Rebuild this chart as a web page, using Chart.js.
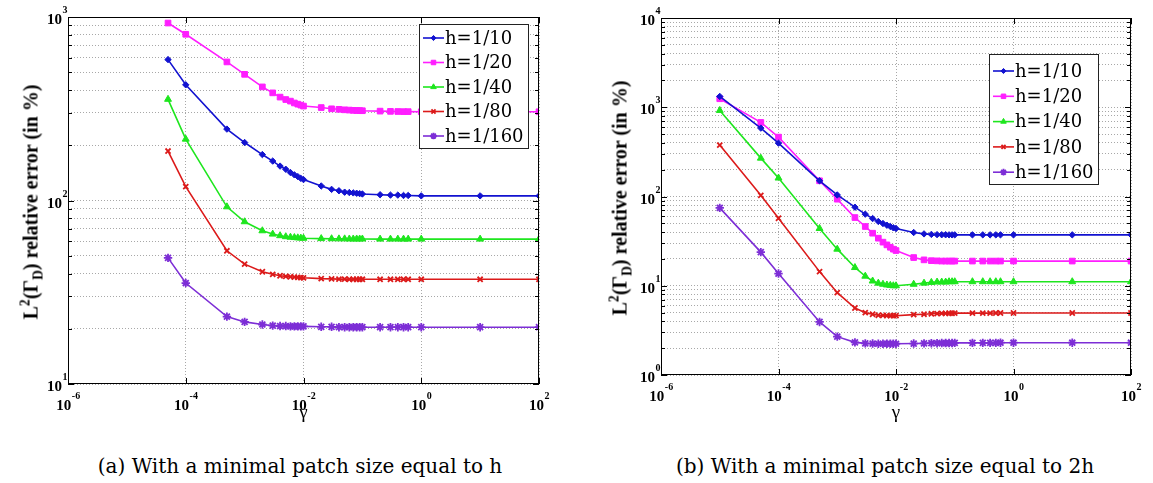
<!DOCTYPE html>
<html>
<head>
<meta charset="utf-8">
<script src="https://cdn.jsdelivr.net/npm/chart.js@4.4.0/dist/chart.umd.min.js"></script>
<style>
  body { margin:0; background:#fff; width:1153px; height:483px; overflow:hidden; position:relative; }
  .panel { position:absolute; top:0; height:440px; }
  .ytitle { position:absolute; font:bold 20px "Liberation Serif", serif; white-space:nowrap; color:#000;
            transform:translate(-50%,-50%) rotate(-90deg); }
  .ytitle sup, .ytitle sub { font-size:68%; line-height:0; }
  .caption { position:absolute; top:454px; font:20px "DejaVu Serif", serif; white-space:nowrap; color:#000;
             transform:translateX(-50%); }
</style>
</head>
<body>
<div class="panel" style="left:0;width:576px"><canvas id="chartA"></canvas></div>
<div class="panel" style="left:576px;width:577px"><canvas id="chartB"></canvas></div>
<div class="ytitle" style="left:31px;top:202px">L<sup>2</sup>(&Gamma;<sub>D</sub>) relative error (in %)</div>
<div class="ytitle" style="left:620px;top:198px">L<sup>2</sup>(&Gamma;<sub>D</sub>) relative error (in %)</div>
<div class="caption" style="left:300px">(a) With a minimal patch size equal to h</div>
<div class="caption" style="left:885px">(b) With a minimal patch size equal to 2h</div>
<script>
// --- data ---
const labels = ['h=1/10', 'h=1/20', 'h=1/40', 'h=1/80', 'h=1/160'];

// (a) minimal patch size = h
const gammaA = [5e-5, 1e-4, 5e-4, 1e-3, 2e-3, 3e-3, 4e-3, 5e-3, 6e-3, 7e-3, 8e-3, 9e-3, 1e-2,
  2e-2, 3e-2, 4e-2, 5e-2, 6e-2, 7e-2, 8e-2, 9e-2, 0.1, 0.2, 0.3, 0.4, 0.5, 0.6, 1, 10, 100];
const a_h10  = [586, 427, 245, 207, 178, 164, 154, 148, 142, 138, 135, 132, 130,
  120, 115, 113, 111, 110.5, 110, 109.5, 109, 108.5, 107.5, 107, 107, 106.5, 106.5, 106, 106, 106];
const a_h20  = [927, 805, 569, 487, 416, 386, 366, 355, 348, 340, 335, 331, 327,
  321, 316, 314, 312, 311, 310, 309.5, 309, 308.5, 307, 306, 305.5, 305, 305, 304.5, 304.5, 304.5];
const a_h40  = [356, 216, 92.4, 76.6, 68.4, 65.6, 64.3, 63.5, 63.1, 62.8, 62.6, 62.4, 62.3,
  62, 61.9, 61.8, 61.8, 61.7, 61.7, 61.7, 61.7, 61.7, 61.6, 61.6, 61.6, 61.6, 61.6, 61.6, 61.6, 61.6];
const a_h80  = [186, 119, 53.2, 45, 40.9, 39.6, 38.9, 38.6, 38.4, 38.2, 38.1, 38, 37.9,
  37.5, 37.4, 37.3, 37.3, 37.2, 37.2, 37.2, 37.2, 37.2, 37.2, 37.2, 37.2, 37.2, 37.2, 37.2, 37.2, 37.2];
const a_h160 = [48.7, 35.5, 23.3, 21.8, 21.1, 20.8, 20.7, 20.7, 20.6, 20.6, 20.6, 20.6, 20.6,
  20.5, 20.5, 20.4, 20.4, 20.4, 20.4, 20.4, 20.4, 20.4, 20.4, 20.4, 20.4, 20.4, 20.4, 20.4, 20.4, 20.4];

// (b) minimal patch size = 2h
const gammaB = [1e-5, 5e-5, 1e-4, 5e-4, 1e-3, 2e-3, 3e-3, 4e-3, 5e-3, 6e-3, 7e-3, 8e-3, 9e-3, 1e-2,
  2e-2, 3e-2, 4e-2, 5e-2, 6e-2, 7e-2, 8e-2, 9e-2, 0.1, 0.2, 0.3, 0.4, 0.5, 0.6, 1, 10, 100];
const b_h10  = [1322, 584, 396, 150, 104, 75.9, 63.4, 56.6, 52.5, 49.8, 47.7, 46.1, 44.6, 43.8,
  39.5, 38.1, 37.6, 37.4, 37.3, 37.3, 37.2, 37.2, 37.2, 37.2, 37.2, 37.2, 37.2, 37.2, 37.2, 37.2, 37.2];
const b_h20  = [1245, 676, 463, 150, 93.3, 58.1, 46.1, 38.8, 34.1, 30.8, 28.7, 27, 25.7, 24.8,
  20.7, 19.5, 19.1, 19.0, 18.9, 18.9, 18.9, 18.9, 18.9, 18.9, 18.9, 18.9, 18.9, 18.9, 18.9, 18.9, 18.9];
const b_h40  = [921, 269, 161, 43.8, 25.7, 16.0, 12.8, 11.3, 10.7, 10.4, 10.2, 10.1, 10.0, 10.0,
  10.4, 10.7, 10.9, 11.0, 11.0, 11.0, 11.1, 11.1, 11.1, 11.1, 11.1, 11.1, 11.1, 11.1, 11.1, 11.1, 11.1];
const b_h80  = [377, 103, 57.1, 14.4, 8.37, 5.63, 5.0, 4.79, 4.67, 4.65, 4.63, 4.62, 4.62, 4.62,
  4.75, 4.8, 4.85, 4.88, 4.9, 4.9, 4.92, 4.92, 4.93, 4.94, 4.94, 4.94, 4.95, 4.95, 4.95, 4.95, 4.95];
const b_h160 = [74.6, 23.8, 13.7, 3.93, 2.69, 2.32, 2.26, 2.25, 2.24, 2.24, 2.24, 2.24, 2.24, 2.24,
  2.25, 2.26, 2.27, 2.27, 2.28, 2.28, 2.28, 2.28, 2.29, 2.29, 2.29, 2.29, 2.29, 2.3, 2.3, 2.3, 2.3];

// tick values
const xTicks = [1e-6, 1e-4, 1e-2, 1, 100];
const yTicksA = [10, 20, 30, 40, 50, 60, 70, 80, 90, 100, 200, 300, 400, 500, 600, 700, 800, 900, 1000];
const yTicksB = [1, 2, 3, 4, 5, 6, 7, 8, 9, 10, 20, 30, 40, 50, 60, 70, 80, 90,
  100, 200, 300, 400, 500, 600, 700, 800, 900, 1000, 2000, 3000, 4000, 5000, 6000, 7000, 8000, 9000, 10000];

// line styles per series
const colors = ['#1212d0', '#ff1eff', '#1ee61e', '#dc1a1a', '#7d2ed6'];
const markers = ['rectRot', 'rect', 'triangle', 'crossRot', 'star'];
const radii = [3.2, 4, 4, 3.6, 4.2];

const isPow10 = v => Math.abs(Math.log10(v) - Math.round(Math.log10(v))) < 1e-9;

function drawPow(ctx, x, y, exp, align) {
  ctx.font = 'bold 15px "Liberation Serif", serif';
  const w1 = ctx.measureText('10').width;
  ctx.font = 'bold 10px "Liberation Serif", serif';
  const w2 = ctx.measureText(exp).width;
  const x0 = align === 'center' ? x - (w1 + w2) / 2 : x - (w1 + w2);
  ctx.textAlign = 'left';
  ctx.textBaseline = 'alphabetic';
  ctx.font = 'bold 15px "Liberation Serif", serif';
  ctx.fillText('10', x0, y);
  ctx.font = 'bold 10px "Liberation Serif", serif';
  ctx.fillText(exp, x0 + w1 + 0.5, y - 11);
}

const axesDecor = {
  id: 'axesDecor',
  afterDraw(chart, args, opts) {
    const { ctx, chartArea: ca } = chart;
    const xs = chart.scales.x, ys = chart.scales.y;
    ctx.save();
    // axes box
    ctx.strokeStyle = '#000';
    ctx.lineWidth = 1;
    ctx.setLineDash([]);
    ctx.strokeRect(ca.left + 0.5, ca.top + 0.5, ca.width - 1, ca.height - 1);
    // inward tick marks
    ctx.beginPath();
    ys.ticks.forEach(t => {
      const py = Math.round(ys.getPixelForValue(t.value)) + 0.5;
      const len = isPow10(t.value) ? 6 : 4;
      ctx.moveTo(ca.left, py); ctx.lineTo(ca.left + len, py);
      ctx.moveTo(ca.right, py); ctx.lineTo(ca.right - len, py);
    });
    xs.ticks.forEach(t => {
      const px = Math.round(xs.getPixelForValue(t.value)) + 0.5;
      ctx.moveTo(px, ca.bottom); ctx.lineTo(px, ca.bottom - 6);
      ctx.moveTo(px, ca.top); ctx.lineTo(px, ca.top + 6);
    });
    ctx.stroke();
    // tick labels as 10^n
    ctx.fillStyle = '#000';
    xs.ticks.forEach(t => {
      drawPow(ctx, xs.getPixelForValue(t.value), ca.bottom + 26, String(Math.round(Math.log10(t.value))), 'center');
    });
    ys.ticks.filter(t => isPow10(t.value)).forEach(t => {
      drawPow(ctx, ca.left - 1, ys.getPixelForValue(t.value) + 7, String(Math.round(Math.log10(t.value))), 'right');
    });
    // legend box
    const lg = opts.legend;
    const bx = ca.right - lg.right - lg.w, by = ca.top + lg.top;
    ctx.fillStyle = '#fff';
    ctx.fillRect(bx, by, lg.w, lg.h);
    ctx.strokeStyle = '#222';
    ctx.strokeRect(bx + 0.5, by + 0.5, lg.w - 1, lg.h - 1);
    chart.data.datasets.forEach((ds, i) => {
      const cy = by + lg.first + i * lg.step;
      ctx.strokeStyle = ds.borderColor;
      ctx.fillStyle = ds.backgroundColor;
      ctx.lineWidth = 1.6;
      ctx.beginPath();
      ctx.moveTo(bx + 4, cy); ctx.lineTo(bx + 25, cy);
      ctx.stroke();
      if (Chart.helpers && Chart.helpers.drawPoint) {
        ctx.lineWidth = ds.pointBorderWidth;
        Chart.helpers.drawPoint(ctx, { pointStyle: ds.pointStyle, radius: ds.pointRadius * 0.8, borderWidth: ds.pointBorderWidth, rotation: 0 }, bx + 14.5, cy);
      }
      ctx.fillStyle = '#000';
      ctx.font = '18px "DejaVu Serif", serif';
      ctx.textAlign = 'left';
      ctx.textBaseline = 'middle';
      ctx.fillText(ds.label, bx + 26, cy + 1);
    });
    ctx.restore();
  }
};

function makeChart(id, gammas, series, yMin, yMax, yTicks, pad, yWidth, xHeight, legend) {
  return new Chart(document.getElementById(id), {
    type: 'line',
    data: {
      datasets: series.map((vals, i) => ({
        label: labels[i],
        data: gammas.map((g, j) => ({ x: g, y: vals[j] })),
        borderColor: colors[i],
        backgroundColor: colors[i],
        borderWidth: 1.6,
        pointStyle: markers[i],
        pointRadius: radii[i],
        pointBorderWidth: markers[i] === 'crossRot' || markers[i] === 'star' ? 1.8 : 1,
        tension: 0,
        fill: false
      }))
    },
    options: {
      responsive: true, maintainAspectRatio: false, animation: false,
      layout: { padding: pad },
      plugins: { legend: { display: false }, tooltip: { enabled: false }, axesDecor: { legend } },
      scales: {
        x: {
          type: 'logarithmic', min: 1e-6, max: 100,
          afterBuildTicks: s => { s.ticks = xTicks.map(v => ({ value: v })); },
          afterFit: s => { s.height = xHeight; },
          ticks: { display: false },
          grid: { color: '#a8a8a8', lineWidth: 1, drawTicks: false },
          border: { display: false, dash: [1, 2] },
          title: { display: true, text: 'γ', color: '#000', font: { family: '"Liberation Serif", serif', size: 19 }, padding: { top: 0, bottom: 16 } }
        },
        y: {
          type: 'logarithmic', min: yMin, max: yMax,
          afterBuildTicks: s => { s.ticks = yTicks.map(v => ({ value: v })); },
          afterFit: s => { s.width = yWidth; },
          ticks: { display: false },
          grid: { color: '#a8a8a8', lineWidth: 1, drawTicks: false },
          border: { display: false, dash: [1, 2] }
        }
      }
    },
    plugins: [axesDecor]
  });
}

makeChart('chartA', gammaA, [a_h10, a_h20, a_h40, a_h80, a_h160], 10, 1000, yTicksA,
  { left: 0, top: 17, right: 37, bottom: 0 }, 68, 56,
  { w: 110, h: 125, right: 10, top: 7, first: 14, step: 24.5 });
makeChart('chartB', gammaB, [b_h10, b_h20, b_h40, b_h80, b_h160], 1, 10000, yTicksB,
  { left: 0, top: 18, right: 22, bottom: 0 }, 85, 65,
  { w: 110, h: 131, right: 32, top: 36, first: 17, step: 25.3 });
</script>
</body>
</html>
